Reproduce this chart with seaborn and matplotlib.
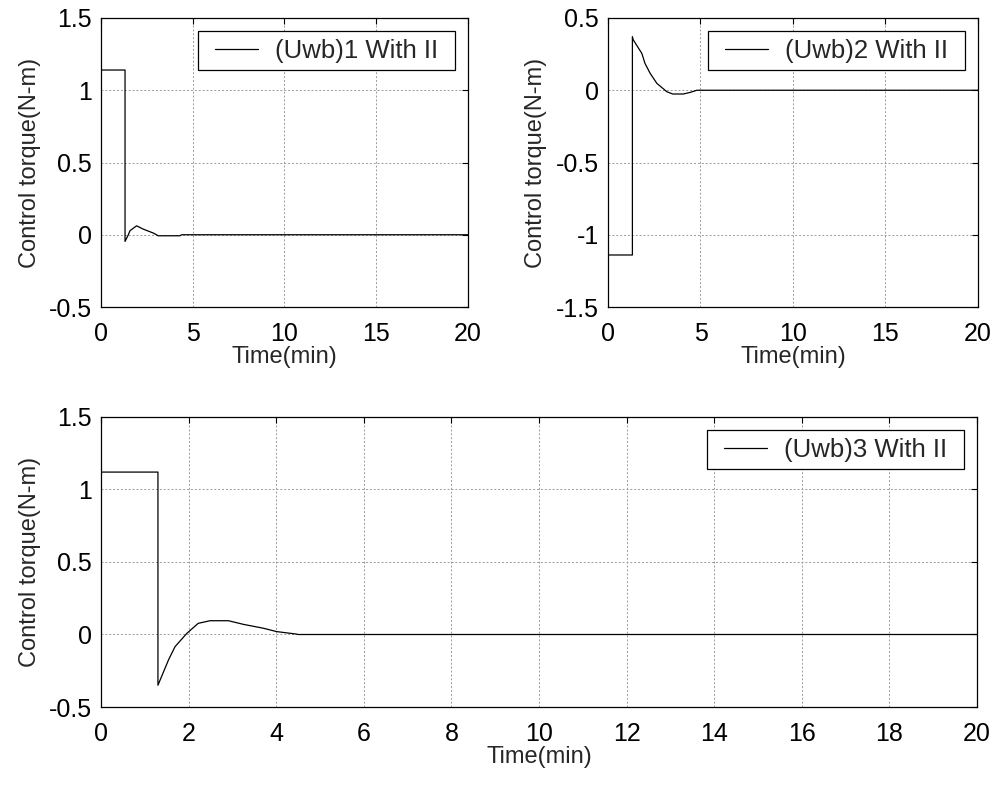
import matplotlib
matplotlib.use("Agg")
import matplotlib.pyplot as plt
from matplotlib.path import Path
from matplotlib.transforms import ScaledTranslation
import seaborn as sns
import pandas as pd

# Control torque histories (time in minutes, torque in N-m)
t1 = [0, 1.31, 1.31, 1.49, 1.58, 1.94, 2.30, 2.85, 3.12, 4.30, 4.40, 20]
u1 = [1.14, 1.14, -0.046, 0.0, 0.028, 0.062, 0.039, 0.012, -0.007, -0.007, 0.0, 0.0]

t2 = [0, 1.32, 1.32, 1.36, 1.83, 2.00, 2.28, 2.64, 3.18, 3.50, 4.07, 4.44, 4.80, 20]
u2 = [-1.14, -1.14, 0.37, 0.35, 0.255, 0.186, 0.117, 0.048, -0.01, -0.026, -0.026, -0.015, 0.0, 0.0]

t3 = [0, 1.30, 1.30, 1.54, 1.69, 1.96, 2.22, 2.49, 2.91, 3.25, 3.71, 4.01, 4.46, 4.50, 20]
u3 = [1.12, 1.12, -0.35, -0.176, -0.084, 0.008, 0.077, 0.095, 0.095, 0.07, 0.043, 0.02, 0.003, 0.0, 0.0]

names = ["(Uwb)1 With II", "(Uwb)2 With II", "(Uwb)3 With II"]

yticks1 = [-0.5, 0, 0.5, 1, 1.5]
ylabels1 = ["-0.5", "0", "0.5", "1", "1.5"]
yticks2 = [-1.5, -1, -0.5, 0, 0.5]
ylabels2 = ["-1.5", "-1", "-0.5", "0", "0.5"]
xticks_top = [0, 5, 10, 15, 20]
xticks_bot = [0, 2, 4, 6, 8, 10, 12, 14, 16, 18, 20]

LABEL_FS = 17
TICK_FS = 18
LEGEND_FS = 18.5
EXTRA = 0.35  # extra horizontal frame margin, in legend font sizes

sns.set_style("white")
plt.rcParams["font.family"] = ["Liberation Sans", "DejaVu Sans"]


def wide_box(x0, y0, width, height, mutation_size):
    """Square legend frame with extra room at the left and right."""
    ex = EXTRA * mutation_size
    return Path([(x0 - ex, y0), (x0 + width + ex, y0),
                 (x0 + width + ex, y0 + height), (x0 - ex, y0 + height),
                 (x0 - ex, y0)], closed=True)


fig = plt.figure(figsize=(9.98, 7.86), dpi=100)
ax1 = fig.add_axes([0.1012, 0.6094, 0.3677, 0.3677])
ax2 = fig.add_axes([0.6092, 0.6094, 0.3707, 0.3677])
ax3 = fig.add_axes([0.1012, 0.1005, 0.8778, 0.3690])

panels = [
    (ax1, t1, u1, names[0], (-0.5, 1.5), yticks1, ylabels1, xticks_top),
    (ax2, t2, u2, names[1], (-1.5, 0.5), yticks2, ylabels2, xticks_top),
    (ax3, t3, u3, names[2], (-0.5, 1.5), yticks1, ylabels1, xticks_bot),
]

shift_in = EXTRA * LEGEND_FS / 72.0

for ax, t, u, name, ylim, yt, yl, xt in panels:
    df = pd.DataFrame({"Time(min)": t, "torque": u})
    sns.lineplot(data=df, x="Time(min)", y="torque", ax=ax, color="black",
                 linewidth=0.9, estimator=None, sort=False, label=name)
    ax.set_xlim(0, 20)
    ax.set_ylim(*ylim)
    ax.set_xticks(xt)
    ax.set_xticklabels([str(v) for v in xt])
    ax.set_yticks(yt)
    ax.set_yticklabels(yl)
    ax.set_xlabel("Time(min)", fontsize=LABEL_FS, labelpad=0)
    ax.set_ylabel("Control torque(N-m)", fontsize=LABEL_FS, labelpad=6)
    ax.grid(True, color="#9a9a9a", linestyle=(0, (2, 2)), linewidth=0.7)
    ax.tick_params(direction="in", length=4, width=0.8, top=True, right=True,
                   labelsize=TICK_FS, colors="black")
    ax.tick_params(axis="x", pad=11)
    ax.tick_params(axis="y", pad=6.5)
    for s in ax.spines.values():
        s.set_visible(True)
        s.set_color("black")
        s.set_linewidth(0.9)
    anchor = ax.transAxes + ScaledTranslation(-shift_in, 0, fig.dpi_scale_trans)
    leg = ax.legend(loc="upper right", bbox_to_anchor=(1, 1), bbox_transform=anchor,
                    fancybox=False, framealpha=1, edgecolor="black",
                    fontsize=LEGEND_FS, handlelength=1.67, handletextpad=0.69,
                    borderpad=0.3, borderaxespad=0.5)
    frame = leg.get_frame()
    frame.set_boxstyle(wide_box)
    frame.set_linewidth(0.9)

fig.savefig("out.png", dpi=100)
